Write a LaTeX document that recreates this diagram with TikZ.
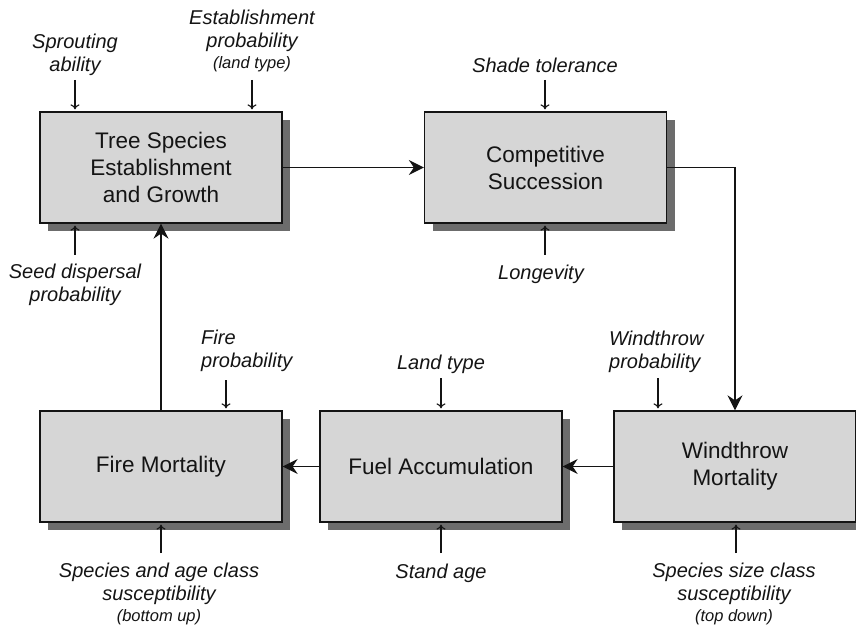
\documentclass[tikz,border=0pt]{standalone}
\usepackage{fontspec}
\setmainfont{Liberation Sans}
\usetikzlibrary{arrows.meta,shadows}
\definecolor{boxfill}{HTML}{D6D6D6}
\definecolor{boxshade}{HTML}{6C6C6C}
\definecolor{ink}{HTML}{141414}
\begin{document}
\begin{tikzpicture}[x=1pt,y=-1pt,
  process/.style={draw=ink, line width=1.3pt, fill=boxfill,
    minimum width=242pt, minimum height=111pt, inner sep=0pt,
    align=center, text=ink, font=\fontsize{22.5}{27}\selectfont,
    drop shadow={shadow xshift=8pt, shadow yshift=-8pt, fill=boxshade, opacity=1}},
  factor/.style={inner sep=0pt, text=ink, font=\itshape\fontsize{20}{23.5}\selectfont},
  flow/.style={draw=ink, line width=1.3pt, -{Stealth[length=15pt,width=15pt,inset=5pt]}},
  input/.style={draw=ink, line width=1.1pt, shorten >=2pt, -{To[length=5pt,width=9pt]}},
]
\useasboundingbox (0,0) rectangle (856,628);
\clip (0,0) rectangle (856,628);

% process boxes
\node[process] (A) at (161,167.5) {Tree Species\\Establishment\\and Growth};
\node[process] (B) at (545.5,167.5) {Competitive\\Succession};
\node[process] (C) at (161,466.5) {Fire Mortality};
\node[process] (D) at (441,466.5) {Fuel Accumulation};
\node[process] (E) at (735,466.5) {Windthrow\\Mortality};

% main cycle
\draw[flow] (A.east) -- (B.west);
\draw[flow] (B.east) -| (E.north);
\draw[flow] (E.west) -- (D.east);
\draw[flow] (D.west) -- (C.east);
\draw[flow] (C.north) -- (A.south);

% driving factors
\node[factor, anchor=north, align=center] (f1) at (75,33.5) {Sprouting\\ability};
\node[factor, anchor=north, align=center] (f2) at (252,9.5) {Establishment\\probability\\[-2.5pt]{\fontsize{16.5}{19}\selectfont(land type)}};
\node[factor, anchor=north, align=center] (f3) at (545,57.5) {Shade tolerance};
\node[factor, anchor=north, align=center] (f4) at (75,263.5) {Seed dispersal\\probability};
\node[factor, anchor=north, align=center] (f5) at (541,264.5) {Longevity};
\node[factor, anchor=north west, align=left] (f6) at (201,329.5) {Fire\\probability};
\node[factor, anchor=north, align=center] (f7) at (441,354.5) {Land type};
\node[factor, anchor=north west, align=left] (f8) at (609,330.5) {Windthrow\\probability};
\node[factor, anchor=north, align=center] (f9) at (441,563.5) {Stand age};
\node[factor, anchor=north, align=center] (f10) at (159,562.5) {Species and age class\\susceptibility\\[-2.5pt]{\fontsize{16.5}{19}\selectfont(bottom up)}};
\node[factor, anchor=north, align=center] (f11) at (734,562.5) {Species size class\\susceptibility\\[-2.5pt]{\fontsize{16.5}{19}\selectfont(top down)}};

% free ends of the factor arrows
\coordinate (s1) at (75,80);
\coordinate (s2) at (252,80);
\coordinate (s3) at (545,80);
\coordinate (s4) at (75,255);
\coordinate (s5) at (545,255);
\coordinate (s6) at (226,380);
\coordinate (s7) at (441,378);
\coordinate (s8) at (658,378);
\coordinate (s9) at (161,553);
\coordinate (s10) at (441,553);
\coordinate (s11) at (736,553);

\draw[input] (s1) -- (s1 |- A.north);
\draw[input] (s2) -- (s2 |- A.north);
\draw[input] (s3) -- (s3 |- B.north);
\draw[input] (s4) -- (s4 |- A.south);
\draw[input] (s5) -- (s5 |- B.south);
\draw[input] (s6) -- (s6 |- C.north);
\draw[input] (s7) -- (s7 |- D.north);
\draw[input] (s8) -- (s8 |- E.north);
\draw[input] (s9) -- (s9 |- C.south);
\draw[input] (s10) -- (s10 |- D.south);
\draw[input] (s11) -- (s11 |- E.south);
\end{tikzpicture}
\end{document}
